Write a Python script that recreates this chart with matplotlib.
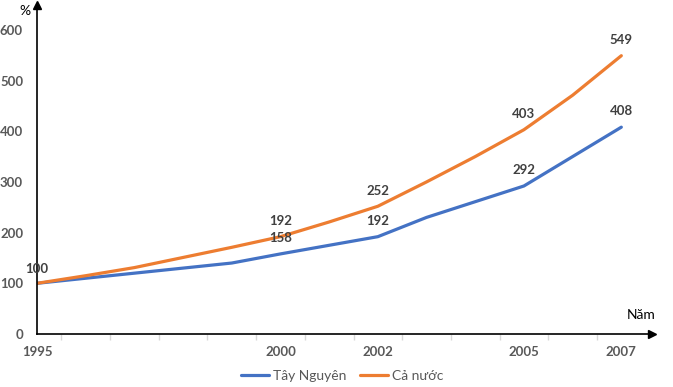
import matplotlib
matplotlib.use("Agg")
import matplotlib.pyplot as plt

years = [1995, 1996, 1997, 1998, 1999, 2000, 2001, 2002, 2003, 2004, 2005, 2006, 2007]
tay_nguyen = [100, 110, 120, 130, 140, 158, 175, 192, 230, 261, 292, 350, 408]
ca_nuoc = [100, 115, 131, 151, 171, 192, 221, 252, 300, 350, 403, 471, 549]
label_years = [1995, 2000, 2002, 2005, 2007]
yticks = [0, 100, 200, 300, 400, 500, 600]

blue = "#4472C4"
orange = "#ED7D31"
txt = "#595959"
lbl = "#404040"

plt.rcParams['font.family'] = ['Lato', 'DejaVu Sans']

fig = plt.figure(figsize=(6.73, 3.87), dpi=100)
ax = fig.add_axes([37/673, (387-334)/387, (652-37)/673, (334-4.5)/387])
ax.set_xlim(1995, 2007.63)
ax.set_ylim(0, 650)

ax.plot(years, tay_nguyen, color=blue, lw=2.3, solid_capstyle='round', label="Tây Nguyên")
ax.plot(years, ca_nuoc, color=orange, lw=2.3, solid_capstyle='round', label="Cả nước")

for s in ['top', 'right']:
    ax.spines[s].set_visible(False)
for s in ['left', 'bottom']:
    ax.spines[s].set_color('black')
    ax.spines[s].set_linewidth(1.2)

# arrow heads
ax.plot([0], [1], marker='^', color='black', markersize=6, transform=ax.transAxes, clip_on=False)
ax.plot([1], [0], marker='>', color='black', markersize=6, transform=ax.transAxes, clip_on=False)

ax.set_yticks(yticks)
ax.set_yticklabels([str(v) for v in yticks], fontsize=9.5, fontweight='bold', color=txt)
ax.tick_params(axis='y', length=0, pad=10)

ax.set_xticks(label_years)
ax.set_xticklabels([str(v) for v in label_years], fontsize=9.5, fontweight='bold', color=txt)
ax.tick_params(axis='x', which='major', length=0, pad=9)
ax.set_xticks([y + 0.5 for y in years[:-1]], minor=True)
ax.tick_params(axis='x', which='minor', length=4, color='#D9D9D9', width=1)

# data labels
tn_map = dict(zip(years, tay_nguyen))
cn_map = dict(zip(years, ca_nuoc))
ax.annotate("100", (1995, 100), xytext=(0, 6), textcoords='offset points', ha='center', va='bottom',
            fontsize=9.5, fontweight='bold', color=lbl, annotation_clip=False)
for y in label_years[1:]:
    ax.annotate(str(tn_map[y]), (y, tn_map[y]), xytext=(0, 7), textcoords='offset points', ha='center', va='bottom',
                fontsize=9.5, fontweight='bold', color=lbl)
    ax.annotate(str(cn_map[y]), (y, cn_map[y]), xytext=(0, 7), textcoords='offset points', ha='center', va='bottom',
                fontsize=9.5, fontweight='bold', color=lbl)

fig.text(25/673, 1 - 11/387, "%", fontsize=10, color='black', ha='center', va='center')
fig.text(641/673, 1 - 315/387, "Năm", fontsize=10, color='black', ha='center', va='center')

leg = fig.legend(loc='center', bbox_to_anchor=(342/673, 1 - 376/387), ncol=2, frameon=False,
                 fontsize=10, handlelength=2.0, columnspacing=1.0, handletextpad=0.3)
for t in leg.get_texts():
    t.set_color(txt)

fig.savefig("out.png", dpi=100)
